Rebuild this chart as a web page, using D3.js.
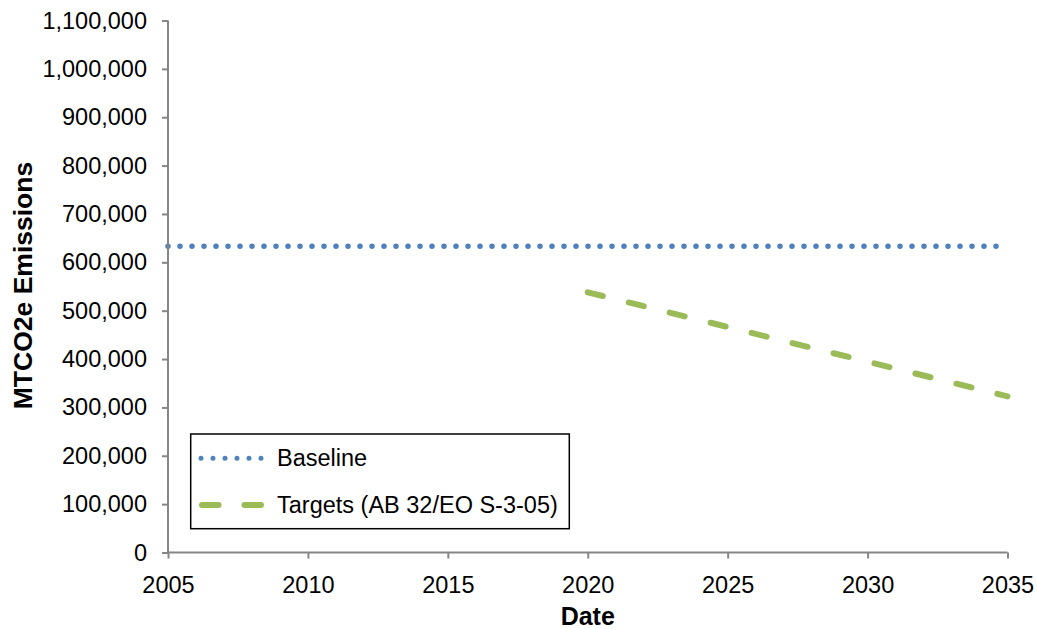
<!DOCTYPE html>
<html>
<head>
<meta charset="utf-8">
<script src="https://cdn.jsdelivr.net/npm/d3@7"></script>
<style>
  html, body { margin: 0; padding: 0; background: #fff; }
  svg { display: block; font-family: "Liberation Sans", Arial, sans-serif; }
</style>
</head>
<body>
<svg id="chart" width="1037" height="629"></svg>
<script>
// Emissions series (MTCO2e)
const baselineYears = [2005, 2035];
const baselineValues = [633000, 633000];
const targetYears = [2020, 2025, 2030, 2035];
const targetValues = [538000, 466300, 394600, 322800];
const xTicks = [2005, 2010, 2015, 2020, 2025, 2030, 2035];
const yTicks = [0, 100000, 200000, 300000, 400000, 500000, 600000, 700000, 800000, 900000, 1000000, 1100000];
const seriesNames = ["Baseline", "Targets (AB 32/EO S-3-05)"];

const svg = d3.select("#chart");
const plotLeft = 168, plotTop = 20.5, plotRight = 1007.5, plotBottom = 552.5;

const x = d3.scaleLinear().domain([2005, 2035]).range([plotLeft, plotRight]);
const y = d3.scaleLinear().domain([0, 1100000]).range([plotBottom, plotTop]);

const line = d3.line().x(d => x(d[0])).y(d => y(d[1]));

const blue = "#4f81bd", green = "#9bbb59", axisGrey = "#868686";

// Series
svg.append("path")
  .datum(d3.zip(baselineYears, baselineValues))
  .attr("d", line)
  .attr("fill", "none")
  .attr("stroke", blue)
  .attr("stroke-width", 5.5)
  .attr("stroke-linecap", "round")
  .attr("stroke-dasharray", "0 12");

svg.append("path")
  .datum(d3.zip(targetYears, targetValues))
  .attr("d", line)
  .attr("fill", "none")
  .attr("stroke", green)
  .attr("stroke-width", 6)
  .attr("stroke-linecap", "round")
  .attr("stroke-dasharray", "15.5 26.7");

// Axes
const fmt = d3.format(",");
const yAxis = svg.append("g")
  .attr("transform", `translate(${plotLeft},0)`)
  .call(d3.axisLeft(y).tickValues(yTicks).tickFormat(fmt).tickSize(6).tickPadding(15));
const xAxis = svg.append("g")
  .attr("transform", `translate(0,${plotBottom})`)
  .call(d3.axisBottom(x).tickValues(xTicks).tickFormat(d3.format("d")).tickSize(6).tickPadding(18));

yAxis.select(".domain").attr("d", `M0,${plotTop}V${plotBottom}`);
xAxis.select(".domain").attr("d", `M${plotLeft},0H${plotRight}`);
[yAxis, xAxis].forEach(g => {
  g.select(".domain").attr("stroke", axisGrey).attr("stroke-width", 2);
  g.selectAll(".tick line").attr("stroke", axisGrey).attr("stroke-width", 2);
  g.selectAll(".tick text").attr("fill", "#000").style("font-size", "23.5px")
    .style("font-family", "'Liberation Sans', Arial, sans-serif");
});

// Axis titles
svg.append("text")
  .attr("transform", `translate(32,${(plotTop + plotBottom) / 2 - 1}) rotate(-90)`)
  .attr("text-anchor", "middle")
  .style("font-size", "26.5px").style("font-weight", "bold")
  .text("MTCO2e Emissions");

svg.append("text")
  .attr("x", (plotLeft + plotRight) / 2).attr("y", 625)
  .attr("text-anchor", "middle")
  .style("font-size", "25px").style("font-weight", "bold")
  .text("Date");

// Legend
const legend = svg.append("g");
legend.append("rect")
  .attr("x", 190.7).attr("y", 434).attr("width", 378.6).attr("height", 94.7)
  .attr("fill", "#fff").attr("stroke", "#000").attr("stroke-width", 1.5);

legend.append("line")
  .attr("x1", 201).attr("x2", 261.5).attr("y1", 458.3).attr("y2", 458.3)
  .attr("stroke", blue).attr("stroke-width", 5).attr("stroke-linecap", "round")
  .attr("stroke-dasharray", "0 12");
legend.append("line")
  .attr("x1", 202).attr("x2", 261).attr("y1", 505).attr("y2", 505)
  .attr("stroke", green).attr("stroke-width", 6).attr("stroke-linecap", "round")
  .attr("stroke-dasharray", "16.5 26");

legend.selectAll("text.lg")
  .data(seriesNames)
  .join("text")
  .attr("class", "lg")
  .attr("x", 277)
  .attr("y", (d, i) => 466 + i * 47)
  .style("font-size", "23.5px")
  .text(d => d);
</script>
</body>
</html>
